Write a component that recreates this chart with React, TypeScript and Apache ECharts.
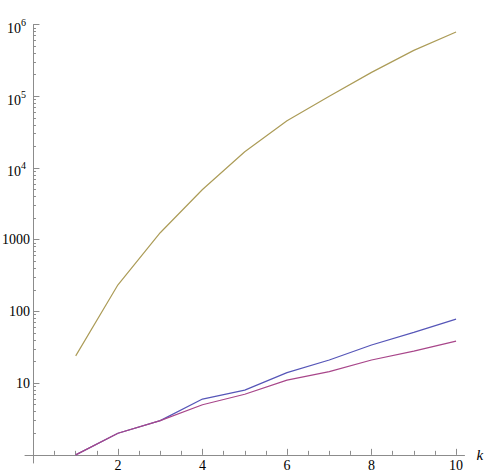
import React, { useEffect, useRef } from 'react';
import * as echarts from 'echarts';

const kValues = [1, 2, 3, 4, 5, 6, 7, 8, 9, 10];
const blueValues = [1, 2, 3, 6, 8, 14, 21, 34, 51, 78];
const purpleValues = [1, 2, 3, 5, 7, 11, 14.5, 21, 28, 38.5];
const goldValues = [24, 235, 1250, 5000, 16800, 45600, 100000, 215000, 436000, 785000];

const xMajorTicks = [2, 4, 6, 8, 10];
const xMinorTicks = [0.5, 1, 1.5, 2.5, 3, 3.5, 4.5, 5, 5.5, 6.5, 7, 7.5, 8.5, 9, 9.5];
const yMajorTicks = [1, 10, 100, 1000, 10000, 100000, 1000000];
const yLabelTicks = [10, 100, 1000, 10000, 100000, 1000000];
const yMinorMantissas = [2, 3, 4, 5, 6, 7, 8, 9];
const yMinorDecades = [1, 10, 100, 1000, 10000, 100000];

const X_MIN = -0.2;
const X_MAX = 10.2;
const Y_MIN = 0.77;
const Y_MAX = 1000000;

const W = 485;
const H = 474;
const GRID = { left: 25, right: 20.5, top: 24.5, bottom: 11 };

const AXIS_COLOR = '#8c8c8c';
const FONT = 'Liberation Serif';

const labelFormatter = (v: number) => {
  const map: Record<number, string> = {
    10: '10',
    100: '100',
    1000: '1000',
    10000: '{b|10}{s|4}',
    100000: '{b|10}{s|5}',
    1000000: '{b|10}{s|6}',
  };
  return map[Math.round(v)] ?? '';
};

export default function App() {
  const ref = useRef<HTMLDivElement>(null);

  useEffect(() => {
    if (!ref.current) return;
    const chart = echarts.init(ref.current, undefined, { renderer: 'svg' });
    const gridH = H - GRID.top - GRID.bottom;
    const xOffset = -gridH * Math.log10(1 / Y_MIN) / Math.log10(Y_MAX / Y_MIN);
    const yMinor = yMinorDecades.flatMap((d) => yMinorMantissas.map((m) => m * d));
    const pairs = (vals: number[]) => kValues.map((k, i) => [k, vals[i]]);

    chart.setOption({
      animation: false,
      backgroundColor: '#ffffff',
      textStyle: { fontFamily: FONT },
      grid: { ...GRID, containLabel: false, outerBoundsMode: 'none' },
      xAxis: [
        {
          type: 'value',
          min: X_MIN,
          max: X_MAX,
          position: 'bottom',
          offset: xOffset,
          axisLine: { show: true, lineStyle: { color: AXIS_COLOR, width: 1 } },
          axisTick: { show: true, inside: true, length: 6, customValues: xMajorTicks, lineStyle: { color: AXIS_COLOR } },
          axisLabel: { show: true, customValues: xMajorTicks, margin: 4, color: '#000', fontSize: 14, fontFamily: FONT },
          splitLine: { show: false },
          name: 'k',
          nameLocation: 'end',
          nameGap: 12,
          nameTextStyle: { fontStyle: 'italic', fontFamily: FONT, fontSize: 15, color: '#000' },
        },
        {
          type: 'value',
          min: X_MIN,
          max: X_MAX,
          position: 'bottom',
          offset: xOffset,
          axisLine: { show: false },
          axisTick: { show: true, inside: true, length: 4, customValues: xMinorTicks, lineStyle: { color: AXIS_COLOR } },
          axisLabel: { show: false },
          splitLine: { show: false },
        },
      ],
      yAxis: [
        {
          type: 'log',
          logBase: 10,
          min: Y_MIN,
          max: Y_MAX,
          position: 'left',
          axisLine: { show: true, onZero: true, lineStyle: { color: AXIS_COLOR, width: 1 } },
          axisTick: { show: true, inside: true, length: 6, customValues: yMajorTicks, lineStyle: { color: AXIS_COLOR } },
          axisLabel: {
            show: true,
            customValues: yLabelTicks,
            margin: -5,
            color: '#000',
            fontSize: 14,
            fontFamily: FONT,
            formatter: labelFormatter,
            rich: {
              b: { fontSize: 14, fontFamily: FONT, color: '#000', verticalAlign: 'top', padding: [8, 0, 0, 0] },
              s: { fontSize: 10, fontFamily: FONT, color: '#000', verticalAlign: 'top', padding: [4, 4, 0, 0] },
            },
          },
          splitLine: { show: false },
          minorTick: { show: false },
        },
        {
          type: 'log',
          logBase: 10,
          min: Y_MIN,
          max: Y_MAX,
          position: 'left',
          axisLine: { show: false, onZero: true },
          axisTick: { show: true, inside: true, length: 2.5, customValues: yMinor, lineStyle: { color: AXIS_COLOR } },
          axisLabel: { show: false },
          splitLine: { show: false },
        },
      ],
      series: [
        {
          type: 'line',
          name: 'blue',
          data: pairs(blueValues),
          xAxisIndex: 0,
          yAxisIndex: 0,
          showSymbol: false,
          lineStyle: { color: '#5656b8', width: 1.2 },
          itemStyle: { color: '#5656b8' },
        },
        {
          type: 'line',
          name: 'purple',
          data: pairs(purpleValues),
          xAxisIndex: 0,
          yAxisIndex: 0,
          showSymbol: false,
          lineStyle: { color: '#a8468a', width: 1.2 },
          itemStyle: { color: '#a8468a' },
        },
        {
          type: 'line',
          name: 'gold',
          data: pairs(goldValues),
          xAxisIndex: 0,
          yAxisIndex: 0,
          showSymbol: false,
          lineStyle: { color: '#ac9c58', width: 1.2 },
          itemStyle: { color: '#ac9c58' },
        },
      ],
    });

    return () => chart.dispose();
  }, []);

  return <div ref={ref} style={{ position: 'fixed', left: 0, top: 0, width: W, height: H }} />;
}
